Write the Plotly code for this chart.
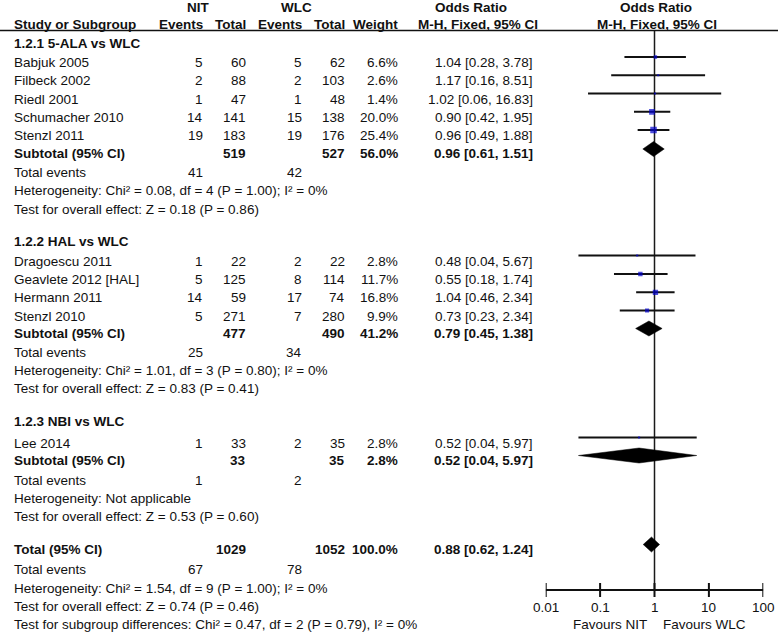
import plotly.graph_objects as go
import math

# ---- data ----
group_titles = ["1.2.1 5-ALA vs WLC", "1.2.2 HAL vs WLC", "1.2.3 NBI vs WLC"]

study_names = ["Babjuk 2005", "Filbeck 2002", "Riedl 2001", "Schumacher 2010", "Stenzl 2011",
               "Dragoescu 2011", "Geavlete 2012 [HAL]", "Hermann 2011", "Stenzl 2010",
               "Lee 2014"]
study_group = [0, 0, 0, 0, 0, 1, 1, 1, 1, 2]
nit_events = [5, 2, 1, 14, 19, 1, 5, 14, 5, 1]
nit_total = [60, 88, 47, 141, 183, 22, 125, 59, 271, 33]
wlc_events = [5, 2, 1, 15, 19, 2, 8, 17, 7, 2]
wlc_total = [62, 103, 48, 138, 176, 22, 114, 74, 280, 35]
weight = [6.6, 2.6, 1.4, 20.0, 25.4, 2.8, 11.7, 16.8, 9.9, 2.8]
or_est = [1.04, 1.17, 1.02, 0.90, 0.96, 0.48, 0.55, 1.04, 0.73, 0.52]
or_low = [0.28, 0.16, 0.06, 0.42, 0.49, 0.04, 0.18, 0.46, 0.23, 0.04]
or_high = [3.78, 8.51, 16.83, 1.95, 1.88, 5.67, 1.74, 2.34, 2.34, 5.97]

sub_nit_total = [519, 477, 33]
sub_wlc_total = [527, 490, 35]
sub_weight = [56.0, 41.2, 2.8]
sub_or = [0.96, 0.79, 0.52]
sub_low = [0.61, 0.45, 0.04]
sub_high = [1.51, 1.38, 5.97]
sub_nit_events = [41, 25, 1]
sub_wlc_events = [42, 34, 2]
sub_het = ["Heterogeneity: Chi² = 0.08, df = 4 (P = 1.00); I² = 0%",
           "Heterogeneity: Chi² = 1.01, df = 3 (P = 0.80); I² = 0%",
           "Heterogeneity: Not applicable"]
sub_effect = ["Test for overall effect: Z = 0.18 (P = 0.86)",
              "Test for overall effect: Z = 0.83 (P = 0.41)",
              "Test for overall effect: Z = 0.53 (P = 0.60)"]

total_nit = 1029
total_wlc = 1052
total_weight = 100.0
total_or = [0.88, 0.62, 1.24]
total_events = [67, 78]
total_het = "Heterogeneity: Chi² = 1.54, df = 9 (P = 1.00); I² = 0%"
total_effect = "Test for overall effect: Z = 0.74 (P = 0.46)"
subgroup_diff = "Test for subgroup differences: Chi² = 0.47, df = 2 (P = 0.79), I² = 0%"

tick_vals = [0.01, 0.1, 1, 10, 100]
tick_text = ["0.01", "0.1", "1", "10", "100"]

# ---- layout (pixel rows / columns) ----
W, H = 778, 634
study_rows = [62.5, 80.7, 99, 117.3, 135.5, 261, 279.5, 297.8, 316, 443]
title_rows = [43.5, 241.7, 421.7]
sub_rows = [153.5, 333, 460]
events_rows = [172, 352.5, 480]
het_rows = [190.5, 370.5, 498]
effect_rows = [209, 388.5, 516]
tot_rows = [549, 569, 588, 606, 624]
col_x = [205, 248, 304, 347, 400, 535]
left_x = 12
axis_y = 590
mark_off = -5.5

FONT = "Liberation Sans, Arial, sans-serif"
INK = "#111111"
FS = 13.5
ann = []


def txt(x, y, s, anchor="left", bold=False, xref="x", xshift=0):
    if bold:
        s = "<b>" + s + "</b>"
    ann.append(dict(x=x, y=y, xref=xref, yref="y", text=s, showarrow=False,
                    xanchor=anchor, yanchor="middle", xshift=xshift,
                    font=dict(family=FONT, size=FS, color=INK)))


def fmt_ci(e, l, h):
    return "%.2f [%.2f, %.2f]" % (e, l, h)


# headers
txt(198, 7.5, "NIT", "center", True)
txt(296, 7.5, "WLC", "center", True)
txt(471, 7.5, "Odds Ratio", "center", True)
txt(656, 7.5, "Odds Ratio", "center", True)
txt(left_x, 24, "Study or Subgroup", "left", True)
for cx, h in zip(col_x[:5], ["Events", "Total", "Events", "Total", "Weight"]):
    txt(cx, 24, h, "right", True)
txt(478, 24, "M-H, Fixed, 95% CI", "center", True)
txt(657, 24, "M-H, Fixed, 95% CI", "center", True)

# study rows
for i, name in enumerate(study_names):
    y = study_rows[i]
    txt(left_x, y, name)
    vals = [str(nit_events[i]), str(nit_total[i]), str(wlc_events[i]), str(wlc_total[i]),
            "%.1f%%" % weight[i], fmt_ci(or_est[i], or_low[i], or_high[i])]
    for cx, v in zip(col_x, vals):
        txt(cx, y, v, "right")

# group blocks
for g in range(3):
    txt(left_x, title_rows[g], group_titles[g], "left", True)
    y = sub_rows[g]
    txt(left_x, y, "Subtotal (95% CI)", "left", True)
    txt(col_x[1], y, str(sub_nit_total[g]), "right", True)
    txt(col_x[3], y, str(sub_wlc_total[g]), "right", True)
    txt(col_x[4], y, "%.1f%%" % sub_weight[g], "right", True)
    txt(col_x[5], y, fmt_ci(sub_or[g], sub_low[g], sub_high[g]), "right", True)
    txt(left_x, events_rows[g], "Total events")
    txt(col_x[0], events_rows[g], str(sub_nit_events[g]), "right")
    txt(col_x[2], events_rows[g], str(sub_wlc_events[g]), "right")
    txt(left_x, het_rows[g], sub_het[g])
    txt(left_x, effect_rows[g], sub_effect[g])

# overall
txt(left_x, tot_rows[0], "Total (95% CI)", "left", True)
txt(col_x[1], tot_rows[0], str(total_nit), "right", True)
txt(col_x[3], tot_rows[0], str(total_wlc), "right", True)
txt(col_x[4], tot_rows[0], "%.1f%%" % total_weight, "right", True)
txt(col_x[5], tot_rows[0], fmt_ci(*total_or), "right", True)
txt(left_x, tot_rows[1], "Total events")
txt(col_x[0], tot_rows[1], str(total_events[0]), "right")
txt(col_x[2], tot_rows[1], str(total_events[1]), "right")
txt(left_x, tot_rows[2], total_het)
txt(left_x, tot_rows[3], total_effect)
txt(left_x, tot_rows[4], subgroup_diff)

fig = go.Figure()

# vertical line of no effect
fig.add_trace(go.Scatter(x=[1, 1], y=[30.5, axis_y], xaxis="x2", yaxis="y", mode="lines",
                         line=dict(color="#1a1a1a", width=1.5), hoverinfo="skip"))

# confidence intervals
ci_x, ci_y = [], []
for i in range(len(study_names)):
    ci_x += [or_low[i], or_high[i], None]
    ci_y += [study_rows[i] + mark_off] * 2 + [None]
fig.add_trace(go.Scatter(x=ci_x, y=ci_y, xaxis="x2", yaxis="y", mode="lines",
                         line=dict(color=INK, width=2), hoverinfo="skip"))

# weighted squares
fig.add_trace(go.Scatter(x=or_est, y=[r + mark_off for r in study_rows], xaxis="x2", yaxis="y",
                         mode="markers",
                         marker=dict(symbol="square", color="#0000cc",
                                     size=[max(2, 1.3 * math.sqrt(w)) for w in weight],
                                     line=dict(width=0)),
                         hoverinfo="skip"))

# diamonds
dia = list(zip(sub_or, sub_low, sub_high, sub_rows)) + [(total_or[0], total_or[1], total_or[2], tot_rows[0])]
for e, lo, hi, r in dia:
    yc = r - 4.5
    fig.add_trace(go.Scatter(x=[lo, e, hi, e, lo], y=[yc, yc - 7.5, yc, yc + 7.5, yc],
                             xaxis="x2", yaxis="y", mode="lines", fill="toself",
                             fillcolor="black", line=dict(color="black", width=0.5),
                             hoverinfo="skip"))

# bottom axis
fig.add_trace(go.Scatter(x=[tick_vals[0], tick_vals[-1]], y=[axis_y, axis_y], xaxis="x2", yaxis="y",
                         mode="lines", line=dict(color=INK, width=2), hoverinfo="skip"))
fig.add_trace(go.Scatter(x=tick_vals, y=[axis_y] * len(tick_vals), xaxis="x2", yaxis="y",
                         mode="markers",
                         marker=dict(symbol="line-ns", size=10, line=dict(color=INK, width=2)),
                         hoverinfo="skip"))
# annotations on a log axis take log10 positions
for v, t in zip(tick_vals, tick_text):
    txt(math.log10(v), axis_y + 17, t, "center", xref="x2")
txt(0, 624, "Favours NIT", "right", xref="x2", xshift=-6)
txt(0, 624, "Favours WLC", "left", xref="x2", xshift=6)

# header rule
shapes = [dict(type="line", xref="x", yref="y", x0=0, x1=W, y0=30.5, y1=30.5,
               line=dict(color=INK, width=1.5))]

x0_px, x1_px = 545.7, 763.3
fig.update_layout(
    width=W, height=H,
    margin=dict(l=0, r=0, t=0, b=0),
    paper_bgcolor="white", plot_bgcolor="white",
    showlegend=False,
    xaxis=dict(range=[0, W], visible=False, domain=[0, 1]),
    xaxis2=dict(type="log", range=[-2, 2], domain=[x0_px / W, x1_px / W],
                anchor="y", visible=False),
    yaxis=dict(range=[H, 0], visible=False, domain=[0, 1]),
    annotations=ann,
    shapes=shapes,
)

fig.write_html("out.html", config={"displayModeBar": False},
               post_script="document.body.style.margin='0';")
